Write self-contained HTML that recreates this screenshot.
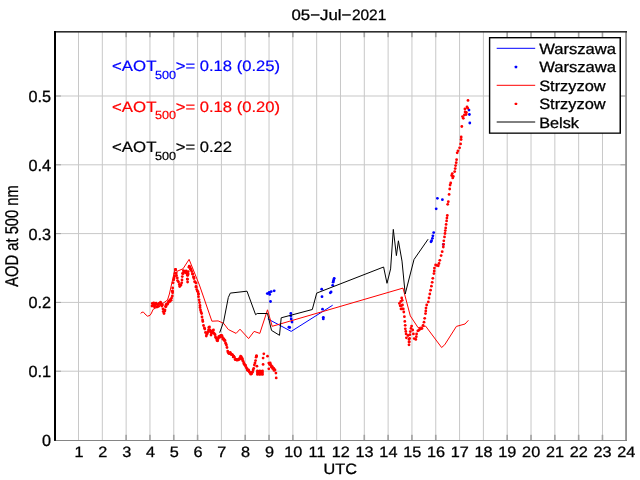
<!DOCTYPE html>
<html><head><meta charset="utf-8"><title>05-Jul-2021</title>
<style>html,body{margin:0;padding:0;background:#fff;overflow:hidden}svg{display:block;will-change:transform}text{font-family:"Liberation Sans",sans-serif;text-rendering:geometricPrecision}</style>
</head><body>
<svg width="640" height="480" viewBox="0 0 640 480">
<rect x="0" y="0" width="640" height="480" fill="#ffffff"/>
<g id="grid" fill="#c8c8c8">
<rect x="56" y="370.70" width="569.5" height="1"/>
<rect x="56" y="301.90" width="569.5" height="1"/>
<rect x="56" y="233.10" width="569.5" height="1"/>
<rect x="56" y="164.30" width="569.5" height="1"/>
<rect x="56" y="95.50" width="569.5" height="1"/>
</g>
<g id="gridv" fill="#c8c8c8">
<rect x="78.00" y="32" width="1" height="408.4"/>
<rect x="101.81" y="32" width="1" height="408.4"/>
<rect x="125.63" y="32" width="1" height="408.4"/>
<rect x="149.45" y="32" width="1" height="408.4"/>
<rect x="173.27" y="32" width="1" height="408.4"/>
<rect x="197.08" y="32" width="1" height="408.4"/>
<rect x="220.90" y="32" width="1" height="408.4"/>
<rect x="244.72" y="32" width="1" height="408.4"/>
<rect x="268.53" y="32" width="1" height="408.4"/>
<rect x="292.35" y="32" width="1" height="408.4"/>
<rect x="316.17" y="32" width="1" height="408.4"/>
<rect x="339.98" y="32" width="1" height="408.4"/>
<rect x="363.80" y="32" width="1" height="408.4"/>
<rect x="387.62" y="32" width="1" height="408.4"/>
<rect x="411.44" y="32" width="1" height="408.4"/>
<rect x="435.25" y="32" width="1" height="408.4"/>
<rect x="459.07" y="32" width="1" height="408.4"/>
<rect x="482.89" y="32" width="1" height="408.4"/>
<rect x="506.70" y="32" width="1" height="408.4"/>
<rect x="530.52" y="32" width="1" height="408.4"/>
<rect x="554.34" y="32" width="1" height="408.4"/>
<rect x="578.15" y="32" width="1" height="408.4"/>
<rect x="601.97" y="32" width="1" height="408.4"/>
</g>
<g id="ticks" fill="#a2a2a2">
<rect x="125.33" y="434.8" width="1.6" height="5.4"/>
<rect x="125.33" y="32" width="1.6" height="5.2"/>
<rect x="149.15" y="434.8" width="1.6" height="5.4"/>
<rect x="149.15" y="32" width="1.6" height="5.2"/>
<rect x="172.97" y="434.8" width="1.6" height="5.4"/>
<rect x="172.97" y="32" width="1.6" height="5.2"/>
<rect x="196.78" y="434.8" width="1.6" height="5.4"/>
<rect x="196.78" y="32" width="1.6" height="5.2"/>
<rect x="244.42" y="434.8" width="1.6" height="5.4"/>
<rect x="244.42" y="32" width="1.6" height="5.2"/>
<rect x="268.23" y="434.8" width="1.6" height="5.4"/>
<rect x="268.23" y="32" width="1.6" height="5.2"/>
<rect x="292.05" y="434.8" width="1.6" height="5.4"/>
<rect x="292.05" y="32" width="1.6" height="5.2"/>
<rect x="363.50" y="434.8" width="1.6" height="5.4"/>
<rect x="363.50" y="32" width="1.6" height="5.2"/>
<rect x="387.32" y="434.8" width="1.6" height="5.4"/>
<rect x="387.32" y="32" width="1.6" height="5.2"/>
<rect x="411.13" y="434.8" width="1.6" height="5.4"/>
<rect x="411.13" y="32" width="1.6" height="5.2"/>
<rect x="434.95" y="434.8" width="1.6" height="5.4"/>
<rect x="434.95" y="32" width="1.6" height="5.2"/>
<rect x="506.40" y="434.8" width="1.6" height="5.4"/>
<rect x="506.40" y="32" width="1.6" height="5.2"/>
<rect x="530.22" y="434.8" width="1.6" height="5.4"/>
<rect x="530.22" y="32" width="1.6" height="5.2"/>
<rect x="554.04" y="434.8" width="1.6" height="5.4"/>
<rect x="554.04" y="32" width="1.6" height="5.2"/>
<rect x="577.85" y="434.8" width="1.6" height="5.4"/>
<rect x="577.85" y="32" width="1.6" height="5.2"/>
<rect x="601.67" y="434.8" width="1.6" height="5.4"/>
<rect x="601.67" y="32" width="1.6" height="5.2"/>
<rect x="56" y="370.70" width="5" height="1"/>
<rect x="620.5" y="370.70" width="5" height="1"/>
<rect x="56" y="301.90" width="5" height="1"/>
<rect x="620.5" y="301.90" width="5" height="1"/>
<rect x="56" y="233.10" width="5" height="1"/>
<rect x="620.5" y="233.10" width="5" height="1"/>
<rect x="56" y="164.30" width="5" height="1"/>
<rect x="620.5" y="164.30" width="5" height="1"/>
<rect x="56" y="95.50" width="5" height="1"/>
<rect x="620.5" y="95.50" width="5" height="1"/>
</g>
<g id="box">
<rect x="54" y="440.0" width="573" height="1.0" fill="#858585"/>
<rect x="625.3" y="31" width="1.5" height="409.9" fill="#7a7a7a"/>
<rect x="54" y="31" width="573" height="1.6" fill="#2e2e2e"/>
<rect x="54" y="31" width="2" height="409.8" fill="#000"/>
</g>
<text transform="translate(291.50,20.00) scale(1.1200,1)" font-size="15.00" text-anchor="start" fill="#000" stroke="#000" stroke-width="0.3">05−Jul−</text>
<text transform="translate(351.90,20.00) scale(1.0310,1)" font-size="15.00" text-anchor="start" fill="#000" stroke="#000" stroke-width="0.3">2021</text>
<text transform="translate(79.09,457.40) scale(1.0830,1)" font-size="15.00" text-anchor="middle" fill="#000" stroke="#000" stroke-width="0.3">1</text>
<text transform="translate(102.88,457.40) scale(1.0830,1)" font-size="15.00" text-anchor="middle" fill="#000" stroke="#000" stroke-width="0.3">2</text>
<text transform="translate(126.67,457.40) scale(1.0830,1)" font-size="15.00" text-anchor="middle" fill="#000" stroke="#000" stroke-width="0.3">3</text>
<text transform="translate(150.47,457.40) scale(1.0830,1)" font-size="15.00" text-anchor="middle" fill="#000" stroke="#000" stroke-width="0.3">4</text>
<text transform="translate(174.26,457.40) scale(1.0830,1)" font-size="15.00" text-anchor="middle" fill="#000" stroke="#000" stroke-width="0.3">5</text>
<text transform="translate(198.05,457.40) scale(1.0830,1)" font-size="15.00" text-anchor="middle" fill="#000" stroke="#000" stroke-width="0.3">6</text>
<text transform="translate(221.84,457.40) scale(1.0830,1)" font-size="15.00" text-anchor="middle" fill="#000" stroke="#000" stroke-width="0.3">7</text>
<text transform="translate(245.63,457.40) scale(1.0830,1)" font-size="15.00" text-anchor="middle" fill="#000" stroke="#000" stroke-width="0.3">8</text>
<text transform="translate(269.43,457.40) scale(1.0830,1)" font-size="15.00" text-anchor="middle" fill="#000" stroke="#000" stroke-width="0.3">9</text>
<text transform="translate(293.22,457.40) scale(1.0830,1)" font-size="15.00" text-anchor="middle" fill="#000" stroke="#000" stroke-width="0.3">10</text>
<text transform="translate(317.01,457.40) scale(1.0830,1)" font-size="15.00" text-anchor="middle" fill="#000" stroke="#000" stroke-width="0.3">11</text>
<text transform="translate(340.80,457.40) scale(1.0830,1)" font-size="15.00" text-anchor="middle" fill="#000" stroke="#000" stroke-width="0.3">12</text>
<text transform="translate(364.59,457.40) scale(1.0830,1)" font-size="15.00" text-anchor="middle" fill="#000" stroke="#000" stroke-width="0.3">13</text>
<text transform="translate(388.38,457.40) scale(1.0830,1)" font-size="15.00" text-anchor="middle" fill="#000" stroke="#000" stroke-width="0.3">14</text>
<text transform="translate(412.18,457.40) scale(1.0830,1)" font-size="15.00" text-anchor="middle" fill="#000" stroke="#000" stroke-width="0.3">15</text>
<text transform="translate(435.97,457.40) scale(1.0830,1)" font-size="15.00" text-anchor="middle" fill="#000" stroke="#000" stroke-width="0.3">16</text>
<text transform="translate(459.76,457.40) scale(1.0830,1)" font-size="15.00" text-anchor="middle" fill="#000" stroke="#000" stroke-width="0.3">17</text>
<text transform="translate(483.55,457.40) scale(1.0830,1)" font-size="15.00" text-anchor="middle" fill="#000" stroke="#000" stroke-width="0.3">18</text>
<text transform="translate(507.34,457.40) scale(1.0830,1)" font-size="15.00" text-anchor="middle" fill="#000" stroke="#000" stroke-width="0.3">19</text>
<text transform="translate(531.13,457.40) scale(1.0830,1)" font-size="15.00" text-anchor="middle" fill="#000" stroke="#000" stroke-width="0.3">20</text>
<text transform="translate(554.92,457.40) scale(1.0830,1)" font-size="15.00" text-anchor="middle" fill="#000" stroke="#000" stroke-width="0.3">21</text>
<text transform="translate(578.72,457.40) scale(1.0830,1)" font-size="15.00" text-anchor="middle" fill="#000" stroke="#000" stroke-width="0.3">22</text>
<text transform="translate(602.51,457.40) scale(1.0830,1)" font-size="15.00" text-anchor="middle" fill="#000" stroke="#000" stroke-width="0.3">23</text>
<text transform="translate(626.30,457.40) scale(1.0830,1)" font-size="15.00" text-anchor="middle" fill="#000" stroke="#000" stroke-width="0.3">24</text>
<text transform="translate(51.00,446.00) scale(1.0000,1)" font-size="16.20" text-anchor="end" fill="#000" stroke="#000" stroke-width="0.3">0</text>
<text transform="translate(51.00,377.20) scale(1.0000,1)" font-size="16.20" text-anchor="end" fill="#000" stroke="#000" stroke-width="0.3">0.1</text>
<text transform="translate(51.00,308.40) scale(1.0000,1)" font-size="16.20" text-anchor="end" fill="#000" stroke="#000" stroke-width="0.3">0.2</text>
<text transform="translate(51.00,239.60) scale(1.0000,1)" font-size="16.20" text-anchor="end" fill="#000" stroke="#000" stroke-width="0.3">0.3</text>
<text transform="translate(51.00,170.80) scale(1.0000,1)" font-size="16.20" text-anchor="end" fill="#000" stroke="#000" stroke-width="0.3">0.4</text>
<text transform="translate(51.00,102.00) scale(1.0000,1)" font-size="16.20" text-anchor="end" fill="#000" stroke="#000" stroke-width="0.3">0.5</text>
<text transform="translate(340.30,474.00) scale(1.0830,1)" font-size="15.00" text-anchor="middle" fill="#000" stroke="#000" stroke-width="0.3">UTC</text>
<text transform="translate(18.3,236.0) rotate(-90) scale(0.80,1)" font-size="18.4" text-anchor="middle" fill="#000" stroke="#000" stroke-width="0.3">AOD at 500 nm</text>
<text transform="translate(112.00,70.90) scale(1.1220,1)" font-size="15.00" text-anchor="start" fill="#0000ff" stroke="#0000ff" stroke-width="0.2">&lt;AOT</text>
<text transform="translate(155.00,78.50) scale(1.0720,1)" font-size="11.80" text-anchor="start" fill="#0000ff" stroke="#0000ff" stroke-width="0.2">500</text>
<text transform="translate(175.80,70.90) scale(1.1060,1)" font-size="15.00" text-anchor="start" fill="#0000ff" stroke="#0000ff" stroke-width="0.2">&gt;= 0.18 (0.25)</text>
<text transform="translate(112.00,111.60) scale(1.1220,1)" font-size="15.00" text-anchor="start" fill="#ff0000" stroke="#ff0000" stroke-width="0.2">&lt;AOT</text>
<text transform="translate(155.00,119.20) scale(1.0720,1)" font-size="11.80" text-anchor="start" fill="#ff0000" stroke="#ff0000" stroke-width="0.2">500</text>
<text transform="translate(175.80,111.60) scale(1.1060,1)" font-size="15.00" text-anchor="start" fill="#ff0000" stroke="#ff0000" stroke-width="0.2">&gt;= 0.18 (0.20)</text>
<text transform="translate(112.00,152.40) scale(1.1220,1)" font-size="15.00" text-anchor="start" fill="#000000" stroke="#000000" stroke-width="0.2">&lt;AOT</text>
<text transform="translate(155.00,160.00) scale(1.0720,1)" font-size="11.80" text-anchor="start" fill="#000000" stroke="#000000" stroke-width="0.2">500</text>
<text transform="translate(175.80,152.40) scale(1.1060,1)" font-size="15.00" text-anchor="start" fill="#000000" stroke="#000000" stroke-width="0.2">&gt;= 0.22</text>
<polyline fill="none" stroke="#0000ff" stroke-width="1.00" stroke-linejoin="miter" points="267.8,318.9 291.2,331.4 332.7,305.2"/>
<g fill="#0000ff">
<circle cx="267.3" cy="293.6" r="1.40"/>
<circle cx="268.9" cy="292.8" r="1.40"/>
<circle cx="269.4" cy="292.3" r="1.40"/>
<circle cx="269.7" cy="294.4" r="1.40"/>
<circle cx="271.2" cy="291.6" r="1.40"/>
<circle cx="274.2" cy="290.8" r="1.40"/>
<circle cx="270.5" cy="301.5" r="1.40"/>
<circle cx="290.8" cy="313.4" r="1.40"/>
<circle cx="291.2" cy="318.9" r="1.40"/>
<circle cx="292.0" cy="322.0" r="1.40"/>
<circle cx="288.9" cy="327.2" r="1.40"/>
<circle cx="289.7" cy="327.5" r="1.40"/>
<circle cx="290.8" cy="316.0" r="1.40"/>
<circle cx="321.7" cy="289.2" r="1.40"/>
<circle cx="322.0" cy="296.7" r="1.40"/>
<circle cx="322.5" cy="309.2" r="1.40"/>
<circle cx="323.3" cy="317.3" r="1.40"/>
<circle cx="323.3" cy="318.9" r="1.40"/>
<circle cx="330.3" cy="292.8" r="1.40"/>
<circle cx="331.1" cy="291.9" r="1.40"/>
<circle cx="332.7" cy="285.3" r="1.40"/>
<circle cx="333.1" cy="282.2" r="1.40"/>
<circle cx="333.4" cy="281.0" r="1.40"/>
<circle cx="333.8" cy="279.8" r="1.40"/>
<circle cx="334.2" cy="278.3" r="1.40"/>
<circle cx="431.0" cy="241.8" r="1.40"/>
<circle cx="431.6" cy="240.7" r="1.40"/>
<circle cx="432.4" cy="238.3" r="1.40"/>
<circle cx="432.9" cy="235.8" r="1.40"/>
<circle cx="433.7" cy="232.6" r="1.40"/>
<circle cx="437.4" cy="198.3" r="1.40"/>
<circle cx="442.4" cy="199.7" r="1.40"/>
<circle cx="436.2" cy="208.8" r="1.40"/>
<circle cx="443.3" cy="244.4" r="1.40"/>
<circle cx="469.0" cy="110.1" r="1.40"/>
<circle cx="469.4" cy="114.5" r="1.40"/>
<circle cx="469.8" cy="123.0" r="1.40"/>
</g>
<polyline fill="none" stroke="#ff0000" stroke-width="1.00" stroke-linejoin="miter" points="140.6,313.5 142.0,312.2 143.5,312.2 145.0,314.0 147.5,316.2 150.0,315.4 151.5,313.0 153.1,309.4 160.0,305.5 167.5,300.0 169.4,294.0 175.0,269.0 177.0,271.3 183.0,268.8 189.1,259.4 199.4,285.0 211.9,321.2 218.1,320.9 223.6,323.3 228.3,329.5 236.1,333.4 240.0,329.2 248.6,338.6 254.1,331.4 259.8,333.4 267.5,309.8 272.2,326.3 403.0,288.1 410.3,315.9 418.1,327.7 425.6,326.1 441.6,347.5 444.7,344.8 456.4,326.4 465.0,324.0 468.4,320.3"/>
<g fill="#ff0000">
<circle cx="152.0" cy="306.0" r="1.40"/>
<circle cx="152.3" cy="303.4" r="1.40"/>
<circle cx="153.0" cy="303.5" r="1.40"/>
<circle cx="153.7" cy="303.0" r="1.40"/>
<circle cx="154.0" cy="305.3" r="1.40"/>
<circle cx="154.5" cy="307.0" r="1.40"/>
<circle cx="154.6" cy="306.0" r="1.40"/>
<circle cx="155.0" cy="304.7" r="1.40"/>
<circle cx="156.0" cy="304.0" r="1.40"/>
<circle cx="156.1" cy="303.2" r="1.40"/>
<circle cx="156.9" cy="307.0" r="1.40"/>
<circle cx="157.5" cy="306.5" r="1.40"/>
<circle cx="157.6" cy="304.4" r="1.40"/>
<circle cx="158.6" cy="306.3" r="1.40"/>
<circle cx="159.0" cy="303.5" r="1.40"/>
<circle cx="159.6" cy="303.3" r="1.40"/>
<circle cx="160.5" cy="302.2" r="1.40"/>
<circle cx="160.9" cy="303.4" r="1.40"/>
<circle cx="161.0" cy="304.5" r="1.40"/>
<circle cx="161.1" cy="303.1" r="1.40"/>
<circle cx="161.8" cy="306.1" r="1.40"/>
<circle cx="162.5" cy="305.0" r="1.40"/>
<circle cx="163.0" cy="309.0" r="1.40"/>
<circle cx="163.2" cy="311.6" r="1.40"/>
<circle cx="164.0" cy="313.5" r="1.40"/>
<circle cx="164.6" cy="311.2" r="1.40"/>
<circle cx="165.0" cy="310.0" r="1.40"/>
<circle cx="165.5" cy="306.5" r="1.40"/>
<circle cx="166.0" cy="306.5" r="1.40"/>
<circle cx="166.1" cy="304.4" r="1.40"/>
<circle cx="167.2" cy="304.4" r="1.40"/>
<circle cx="167.5" cy="303.8" r="1.40"/>
<circle cx="167.8" cy="303.3" r="1.40"/>
<circle cx="168.5" cy="301.4" r="1.40"/>
<circle cx="169.0" cy="301.5" r="1.40"/>
<circle cx="169.8" cy="301.6" r="1.40"/>
<circle cx="169.7" cy="300.5" r="1.40"/>
<circle cx="170.5" cy="299.5" r="1.40"/>
<circle cx="171.1" cy="300.3" r="1.40"/>
<circle cx="171.6" cy="298.0" r="1.40"/>
<circle cx="172.3" cy="296.0" r="1.40"/>
<circle cx="172.6" cy="292.8" r="1.40"/>
<circle cx="172.4" cy="291.2" r="1.40"/>
<circle cx="172.4" cy="291.2" r="1.40"/>
<circle cx="172.7" cy="288.0" r="1.40"/>
<circle cx="173.1" cy="282.8" r="1.40"/>
<circle cx="173.8" cy="279.8" r="1.40"/>
<circle cx="174.1" cy="278.1" r="1.40"/>
<circle cx="174.5" cy="276.2" r="1.40"/>
<circle cx="175.0" cy="273.4" r="1.40"/>
<circle cx="175.5" cy="269.5" r="1.40"/>
<circle cx="175.5" cy="269.5" r="1.40"/>
<circle cx="176.3" cy="273.0" r="1.40"/>
<circle cx="176.5" cy="275.5" r="1.40"/>
<circle cx="177.3" cy="278.0" r="1.40"/>
<circle cx="177.5" cy="280.6" r="1.40"/>
<circle cx="178.5" cy="282.0" r="1.40"/>
<circle cx="179.3" cy="284.5" r="1.40"/>
<circle cx="179.7" cy="286.5" r="1.40"/>
<circle cx="180.7" cy="285.1" r="1.40"/>
<circle cx="181.0" cy="285.0" r="1.40"/>
<circle cx="181.7" cy="282.8" r="1.40"/>
<circle cx="182.0" cy="280.0" r="1.40"/>
<circle cx="182.3" cy="276.6" r="1.40"/>
<circle cx="182.5" cy="273.5" r="1.40"/>
<circle cx="183.2" cy="273.6" r="1.40"/>
<circle cx="183.4" cy="270.6" r="1.40"/>
<circle cx="183.9" cy="271.5" r="1.40"/>
<circle cx="184.1" cy="271.9" r="1.40"/>
<circle cx="185.0" cy="271.5" r="1.40"/>
<circle cx="185.8" cy="272.9" r="1.40"/>
<circle cx="186.2" cy="271.0" r="1.40"/>
<circle cx="187.0" cy="272.3" r="1.40"/>
<circle cx="187.2" cy="275.0" r="1.40"/>
<circle cx="187.3" cy="279.1" r="1.40"/>
<circle cx="187.6" cy="282.0" r="1.40"/>
<circle cx="187.4" cy="279.2" r="1.40"/>
<circle cx="187.7" cy="275.4" r="1.40"/>
<circle cx="188.2" cy="274.0" r="1.40"/>
<circle cx="188.2" cy="271.6" r="1.40"/>
<circle cx="189.0" cy="267.3" r="1.40"/>
<circle cx="189.2" cy="266.2" r="1.40"/>
<circle cx="190.0" cy="266.9" r="1.40"/>
<circle cx="190.4" cy="269.2" r="1.40"/>
<circle cx="191.0" cy="269.0" r="1.40"/>
<circle cx="191.1" cy="270.1" r="1.40"/>
<circle cx="191.9" cy="271.6" r="1.40"/>
<circle cx="192.4" cy="274.1" r="1.40"/>
<circle cx="192.8" cy="274.0" r="1.40"/>
<circle cx="193.5" cy="276.8" r="1.40"/>
<circle cx="193.8" cy="277.2" r="1.40"/>
<circle cx="194.0" cy="278.5" r="1.40"/>
<circle cx="194.6" cy="281.7" r="1.40"/>
<circle cx="195.2" cy="282.0" r="1.40"/>
<circle cx="196.0" cy="283.1" r="1.40"/>
<circle cx="196.0" cy="286.5" r="1.40"/>
<circle cx="196.2" cy="287.2" r="1.40"/>
<circle cx="196.8" cy="289.6" r="1.40"/>
<circle cx="197.5" cy="291.2" r="1.40"/>
<circle cx="198.0" cy="291.8" r="1.40"/>
<circle cx="198.4" cy="294.0" r="1.40"/>
<circle cx="198.4" cy="294.0" r="1.40"/>
<circle cx="198.5" cy="296.7" r="1.40"/>
<circle cx="199.1" cy="299.8" r="1.40"/>
<circle cx="199.5" cy="302.5" r="1.40"/>
<circle cx="200.0" cy="305.4" r="1.40"/>
<circle cx="200.0" cy="307.5" r="1.40"/>
<circle cx="200.5" cy="310.0" r="1.40"/>
<circle cx="201.0" cy="312.0" r="1.40"/>
<circle cx="201.6" cy="313.5" r="1.40"/>
<circle cx="202.0" cy="317.0" r="1.40"/>
<circle cx="202.6" cy="319.9" r="1.40"/>
<circle cx="202.8" cy="321.5" r="1.40"/>
<circle cx="203.5" cy="325.5" r="1.40"/>
<circle cx="204.4" cy="327.9" r="1.40"/>
<circle cx="204.8" cy="329.0" r="1.40"/>
<circle cx="205.5" cy="332.5" r="1.40"/>
<circle cx="206.3" cy="336.0" r="1.40"/>
<circle cx="206.8" cy="334.3" r="1.40"/>
<circle cx="207.5" cy="333.0" r="1.40"/>
<circle cx="207.8" cy="331.8" r="1.40"/>
<circle cx="208.5" cy="330.0" r="1.40"/>
<circle cx="208.8" cy="327.5" r="1.40"/>
<circle cx="209.5" cy="327.0" r="1.40"/>
<circle cx="210.0" cy="330.0" r="1.40"/>
<circle cx="210.3" cy="331.8" r="1.40"/>
<circle cx="211.0" cy="335.0" r="1.40"/>
<circle cx="211.4" cy="333.0" r="1.40"/>
<circle cx="212.0" cy="333.0" r="1.40"/>
<circle cx="212.2" cy="331.2" r="1.40"/>
<circle cx="212.8" cy="330.7" r="1.40"/>
<circle cx="213.5" cy="330.0" r="1.40"/>
<circle cx="213.7" cy="332.8" r="1.40"/>
<circle cx="214.5" cy="334.0" r="1.40"/>
<circle cx="215.1" cy="334.7" r="1.40"/>
<circle cx="215.5" cy="337.0" r="1.40"/>
<circle cx="215.9" cy="337.8" r="1.40"/>
<circle cx="216.4" cy="338.5" r="1.40"/>
<circle cx="217.0" cy="340.5" r="1.40"/>
<circle cx="217.7" cy="340.8" r="1.40"/>
<circle cx="218.0" cy="338.8" r="1.40"/>
<circle cx="218.5" cy="338.0" r="1.40"/>
<circle cx="218.8" cy="336.6" r="1.40"/>
<circle cx="219.4" cy="336.5" r="1.40"/>
<circle cx="220.2" cy="335.8" r="1.40"/>
<circle cx="220.2" cy="337.0" r="1.40"/>
<circle cx="221.0" cy="335.5" r="1.40"/>
<circle cx="221.5" cy="335.4" r="1.40"/>
<circle cx="222.0" cy="335.8" r="1.40"/>
<circle cx="222.5" cy="337.5" r="1.40"/>
<circle cx="223.0" cy="339.2" r="1.40"/>
<circle cx="223.7" cy="339.1" r="1.40"/>
<circle cx="223.9" cy="339.0" r="1.40"/>
<circle cx="224.3" cy="340.5" r="1.40"/>
<circle cx="225.0" cy="340.5" r="1.40"/>
<circle cx="225.5" cy="342.9" r="1.40"/>
<circle cx="226.0" cy="344.0" r="1.40"/>
<circle cx="226.4" cy="345.1" r="1.40"/>
<circle cx="227.0" cy="347.5" r="1.40"/>
<circle cx="227.7" cy="351.1" r="1.40"/>
<circle cx="228.1" cy="352.5" r="1.40"/>
<circle cx="228.8" cy="353.4" r="1.40"/>
<circle cx="229.4" cy="353.6" r="1.40"/>
<circle cx="229.6" cy="353.4" r="1.40"/>
<circle cx="230.2" cy="352.5" r="1.40"/>
<circle cx="230.6" cy="353.4" r="1.40"/>
<circle cx="231.2" cy="354.6" r="1.40"/>
<circle cx="231.9" cy="354.4" r="1.40"/>
<circle cx="232.7" cy="355.0" r="1.40"/>
<circle cx="233.2" cy="356.9" r="1.40"/>
<circle cx="233.7" cy="356.2" r="1.40"/>
<circle cx="233.9" cy="356.7" r="1.40"/>
<circle cx="234.4" cy="357.3" r="1.40"/>
<circle cx="235.1" cy="359.6" r="1.40"/>
<circle cx="235.6" cy="359.4" r="1.40"/>
<circle cx="236.3" cy="359.4" r="1.40"/>
<circle cx="236.7" cy="360.1" r="1.40"/>
<circle cx="236.9" cy="359.8" r="1.40"/>
<circle cx="237.9" cy="360.0" r="1.40"/>
<circle cx="238.4" cy="359.4" r="1.40"/>
<circle cx="238.8" cy="359.4" r="1.40"/>
<circle cx="239.2" cy="359.0" r="1.40"/>
<circle cx="239.9" cy="358.0" r="1.40"/>
<circle cx="240.6" cy="356.2" r="1.40"/>
<circle cx="241.4" cy="357.0" r="1.40"/>
<circle cx="241.5" cy="359.2" r="1.40"/>
<circle cx="242.2" cy="358.5" r="1.40"/>
<circle cx="242.4" cy="359.5" r="1.40"/>
<circle cx="243.1" cy="361.2" r="1.40"/>
<circle cx="243.8" cy="363.0" r="1.40"/>
<circle cx="244.0" cy="364.1" r="1.40"/>
<circle cx="244.9" cy="364.7" r="1.40"/>
<circle cx="245.1" cy="365.5" r="1.40"/>
<circle cx="245.5" cy="365.4" r="1.40"/>
<circle cx="246.2" cy="367.5" r="1.40"/>
<circle cx="247.0" cy="368.6" r="1.40"/>
<circle cx="247.3" cy="369.9" r="1.40"/>
<circle cx="247.8" cy="370.5" r="1.40"/>
<circle cx="248.5" cy="369.8" r="1.40"/>
<circle cx="248.7" cy="370.7" r="1.40"/>
<circle cx="249.4" cy="371.9" r="1.40"/>
<circle cx="249.8" cy="372.6" r="1.40"/>
<circle cx="250.4" cy="372.6" r="1.40"/>
<circle cx="250.8" cy="374.2" r="1.40"/>
<circle cx="251.6" cy="373.8" r="1.40"/>
<circle cx="252.0" cy="372.4" r="1.40"/>
<circle cx="252.6" cy="372.1" r="1.40"/>
<circle cx="253.1" cy="370.0" r="1.40"/>
<circle cx="253.7" cy="368.4" r="1.40"/>
<circle cx="254.4" cy="365.0" r="1.40"/>
<circle cx="255.0" cy="362.9" r="1.40"/>
<circle cx="255.6" cy="360.6" r="1.40"/>
<circle cx="256.1" cy="357.2" r="1.40"/>
<circle cx="256.6" cy="355.9" r="1.40"/>
<circle cx="256.9" cy="366.2" r="1.40"/>
<circle cx="263.8" cy="353.8" r="1.40"/>
<circle cx="263.1" cy="358.1" r="1.40"/>
<circle cx="263.1" cy="364.4" r="1.40"/>
<circle cx="267.5" cy="356.2" r="1.40"/>
<circle cx="268.8" cy="363.1" r="1.40"/>
<circle cx="270.5" cy="364.5" r="1.40"/>
<circle cx="271.5" cy="365.8" r="1.40"/>
<circle cx="272.5" cy="366.9" r="1.40"/>
<circle cx="273.8" cy="368.5" r="1.40"/>
<circle cx="275.0" cy="370.0" r="1.40"/>
<circle cx="275.9" cy="373.1" r="1.40"/>
<circle cx="268.8" cy="368.8" r="1.40"/>
<circle cx="276.2" cy="377.9" r="1.40"/>
<circle cx="256.4" cy="356.0" r="1.40"/>
<circle cx="257.4" cy="371.0" r="1.40"/>
<circle cx="258.2" cy="371.3" r="1.40"/>
<circle cx="259.1" cy="371.6" r="1.40"/>
<circle cx="259.9" cy="371.0" r="1.40"/>
<circle cx="260.8" cy="371.3" r="1.40"/>
<circle cx="261.6" cy="371.6" r="1.40"/>
<circle cx="262.5" cy="371.0" r="1.40"/>
<circle cx="257.4" cy="372.7" r="1.40"/>
<circle cx="258.2" cy="373.0" r="1.40"/>
<circle cx="259.1" cy="372.4" r="1.40"/>
<circle cx="259.9" cy="372.7" r="1.40"/>
<circle cx="260.8" cy="373.0" r="1.40"/>
<circle cx="261.6" cy="372.4" r="1.40"/>
<circle cx="262.5" cy="372.7" r="1.40"/>
<circle cx="257.4" cy="374.4" r="1.40"/>
<circle cx="258.2" cy="373.8" r="1.40"/>
<circle cx="259.1" cy="374.1" r="1.40"/>
<circle cx="259.9" cy="374.4" r="1.40"/>
<circle cx="260.8" cy="373.8" r="1.40"/>
<circle cx="261.6" cy="374.1" r="1.40"/>
<circle cx="262.5" cy="374.4" r="1.40"/>
<circle cx="269.6" cy="364.6" r="1.40"/>
<circle cx="271.3" cy="366.9" r="1.40"/>
<circle cx="272.6" cy="368.6" r="1.40"/>
<circle cx="274.0" cy="370.4" r="1.40"/>
<circle cx="270.2" cy="363.0" r="1.40"/>
<circle cx="401.7" cy="298.0" r="1.40"/>
<circle cx="402.2" cy="300.3" r="1.40"/>
<circle cx="400.8" cy="301.5" r="1.40"/>
<circle cx="399.4" cy="303.4" r="1.40"/>
<circle cx="400.2" cy="305.8" r="1.40"/>
<circle cx="401.2" cy="305.7" r="1.40"/>
<circle cx="402.5" cy="305.0" r="1.40"/>
<circle cx="401.0" cy="308.9" r="1.40"/>
<circle cx="402.1" cy="308.9" r="1.40"/>
<circle cx="403.3" cy="308.9" r="1.40"/>
<circle cx="403.8" cy="312.0" r="1.40"/>
<circle cx="404.4" cy="316.7" r="1.40"/>
<circle cx="404.8" cy="321.4" r="1.40"/>
<circle cx="405.2" cy="325.3" r="1.40"/>
<circle cx="405.3" cy="328.8" r="1.40"/>
<circle cx="405.8" cy="331.4" r="1.40"/>
<circle cx="406.1" cy="333.9" r="1.40"/>
<circle cx="406.4" cy="337.8" r="1.40"/>
<circle cx="408.0" cy="335.5" r="1.40"/>
<circle cx="409.0" cy="339.4" r="1.40"/>
<circle cx="409.0" cy="342.1" r="1.40"/>
<circle cx="409.0" cy="344.8" r="1.40"/>
<circle cx="409.3" cy="341.8" r="1.40"/>
<circle cx="409.6" cy="338.3" r="1.40"/>
<circle cx="409.9" cy="334.7" r="1.40"/>
<circle cx="410.3" cy="331.6" r="1.40"/>
<circle cx="411.0" cy="328.4" r="1.40"/>
<circle cx="411.6" cy="326.1" r="1.40"/>
<circle cx="412.7" cy="330.0" r="1.40"/>
<circle cx="413.4" cy="333.9" r="1.40"/>
<circle cx="414.2" cy="338.6" r="1.40"/>
<circle cx="415.8" cy="339.4" r="1.40"/>
<circle cx="416.3" cy="336.7" r="1.40"/>
<circle cx="416.6" cy="333.9" r="1.40"/>
<circle cx="417.8" cy="330.8" r="1.40"/>
<circle cx="418.8" cy="330.3" r="1.40"/>
<circle cx="419.7" cy="329.2" r="1.40"/>
<circle cx="421.0" cy="328.7" r="1.40"/>
<circle cx="422.0" cy="328.4" r="1.40"/>
<circle cx="423.1" cy="325.3" r="1.40"/>
<circle cx="424.0" cy="322.2" r="1.40"/>
<circle cx="424.7" cy="318.3" r="1.40"/>
<circle cx="425.5" cy="313.6" r="1.40"/>
<circle cx="425.8" cy="310.9" r="1.40"/>
<circle cx="426.0" cy="308.1" r="1.40"/>
<circle cx="426.7" cy="305.0" r="1.40"/>
<circle cx="428.3" cy="301.9" r="1.40"/>
<circle cx="429.0" cy="298.0" r="1.40"/>
<circle cx="429.8" cy="294.0" r="1.40"/>
<circle cx="430.6" cy="290.2" r="1.40"/>
<circle cx="431.4" cy="286.2" r="1.40"/>
<circle cx="432.2" cy="282.3" r="1.40"/>
<circle cx="432.8" cy="278.3" r="1.40"/>
<circle cx="433.9" cy="273.6" r="1.40"/>
<circle cx="434.2" cy="271.0" r="1.40"/>
<circle cx="434.4" cy="268.1" r="1.40"/>
<circle cx="435.6" cy="265.0" r="1.40"/>
<circle cx="436.9" cy="265.4" r="1.40"/>
<circle cx="438.3" cy="265.8" r="1.40"/>
<circle cx="439.0" cy="263.5" r="1.40"/>
<circle cx="439.8" cy="260.3" r="1.40"/>
<circle cx="441.1" cy="255.6" r="1.40"/>
<circle cx="442.2" cy="251.7" r="1.40"/>
<circle cx="443.3" cy="247.0" r="1.40"/>
<circle cx="443.6" cy="244.3" r="1.40"/>
<circle cx="443.8" cy="240.8" r="1.40"/>
<circle cx="444.5" cy="236.9" r="1.40"/>
<circle cx="445.0" cy="233.5" r="1.40"/>
<circle cx="445.3" cy="230.6" r="1.40"/>
<circle cx="445.7" cy="227.9" r="1.40"/>
<circle cx="446.1" cy="224.4" r="1.40"/>
<circle cx="446.6" cy="220.9" r="1.40"/>
<circle cx="446.9" cy="218.1" r="1.40"/>
<circle cx="447.3" cy="215.5" r="1.40"/>
<circle cx="447.7" cy="204.3" r="1.40"/>
<circle cx="448.3" cy="201.7" r="1.40"/>
<circle cx="449.1" cy="194.4" r="1.40"/>
<circle cx="449.7" cy="189.0" r="1.40"/>
<circle cx="450.1" cy="185.0" r="1.40"/>
<circle cx="450.7" cy="183.0" r="1.40"/>
<circle cx="452.7" cy="177.9" r="1.40"/>
<circle cx="453.3" cy="176.5" r="1.40"/>
<circle cx="451.7" cy="175.5" r="1.40"/>
<circle cx="452.3" cy="173.6" r="1.40"/>
<circle cx="454.7" cy="171.6" r="1.40"/>
<circle cx="455.2" cy="168.6" r="1.40"/>
<circle cx="455.6" cy="165.6" r="1.40"/>
<circle cx="456.2" cy="162.7" r="1.40"/>
<circle cx="456.6" cy="159.7" r="1.40"/>
<circle cx="457.2" cy="152.8" r="1.40"/>
<circle cx="458.0" cy="150.8" r="1.40"/>
<circle cx="459.6" cy="147.8" r="1.40"/>
<circle cx="460.6" cy="143.9" r="1.40"/>
<circle cx="461.1" cy="139.5" r="1.40"/>
<circle cx="461.2" cy="136.9" r="1.40"/>
<circle cx="461.8" cy="126.5" r="1.40"/>
<circle cx="463.3" cy="118.3" r="1.40"/>
<circle cx="462.5" cy="116.6" r="1.40"/>
<circle cx="464.4" cy="115.0" r="1.40"/>
<circle cx="466.1" cy="114.5" r="1.40"/>
<circle cx="466.4" cy="112.4" r="1.40"/>
<circle cx="465.1" cy="112.0" r="1.40"/>
<circle cx="464.9" cy="109.0" r="1.40"/>
<circle cx="467.7" cy="108.2" r="1.40"/>
<circle cx="467.0" cy="107.0" r="1.40"/>
<circle cx="468.0" cy="100.4" r="1.40"/>
</g>
<polyline fill="none" stroke="#000000" stroke-width="1.00" stroke-linejoin="miter" points="219.7,332.7 223.6,321.7 228.3,297.5 230.3,293.1 247.0,291.2 255.6,314.7 257.2,313.5 267.5,313.5 271.5,330.4 279.5,335.3 281.2,317.8 312.3,309.5 316.7,293.1 383.6,267.0 387.0,283.3 390.6,268.9 393.3,229.4 396.4,255.6 398.4,240.8 402.0,261.1 405.2,294.0 414.0,259.5 428.1,239.2"/>
<rect x="488.9" y="37" width="132.1" height="96.8" fill="#000"/>
<rect x="490.3" y="38.4" width="129.2" height="94.1" fill="#fff"/>
<line x1="496.7" x2="535.2" y1="48.3" y2="48.3" stroke="#0000ff" stroke-width="1"/>
<rect x="514.7" y="65.8" width="2.5" height="2.4" rx="0.5" fill="#0000ff"/>
<line x1="496.7" x2="535.2" y1="85.3" y2="85.3" stroke="#ff0000" stroke-width="1"/>
<rect x="514.7" y="102.7" width="2.5" height="2.4" rx="0.5" fill="#ff0000"/>
<line x1="496.7" x2="535.2" y1="122.0" y2="122.0" stroke="#000" stroke-width="1"/>
<text transform="translate(539.20,53.80) scale(1.1050,1)" font-size="15.00" text-anchor="start" fill="#000" stroke="#000" stroke-width="0.3">Warszawa</text>
<text transform="translate(539.20,72.40) scale(1.1050,1)" font-size="15.00" text-anchor="start" fill="#000" stroke="#000" stroke-width="0.3">Warszawa</text>
<text transform="translate(539.20,90.80) scale(1.0910,1)" font-size="15.00" text-anchor="start" fill="#000" stroke="#000" stroke-width="0.3">Strzyzow</text>
<text transform="translate(539.20,109.30) scale(1.0910,1)" font-size="15.00" text-anchor="start" fill="#000" stroke="#000" stroke-width="0.3">Strzyzow</text>
<text transform="translate(539.20,127.50) scale(1.0840,1)" font-size="15.00" text-anchor="start" fill="#000" stroke="#000" stroke-width="0.3">Belsk</text>
</svg></body></html>
